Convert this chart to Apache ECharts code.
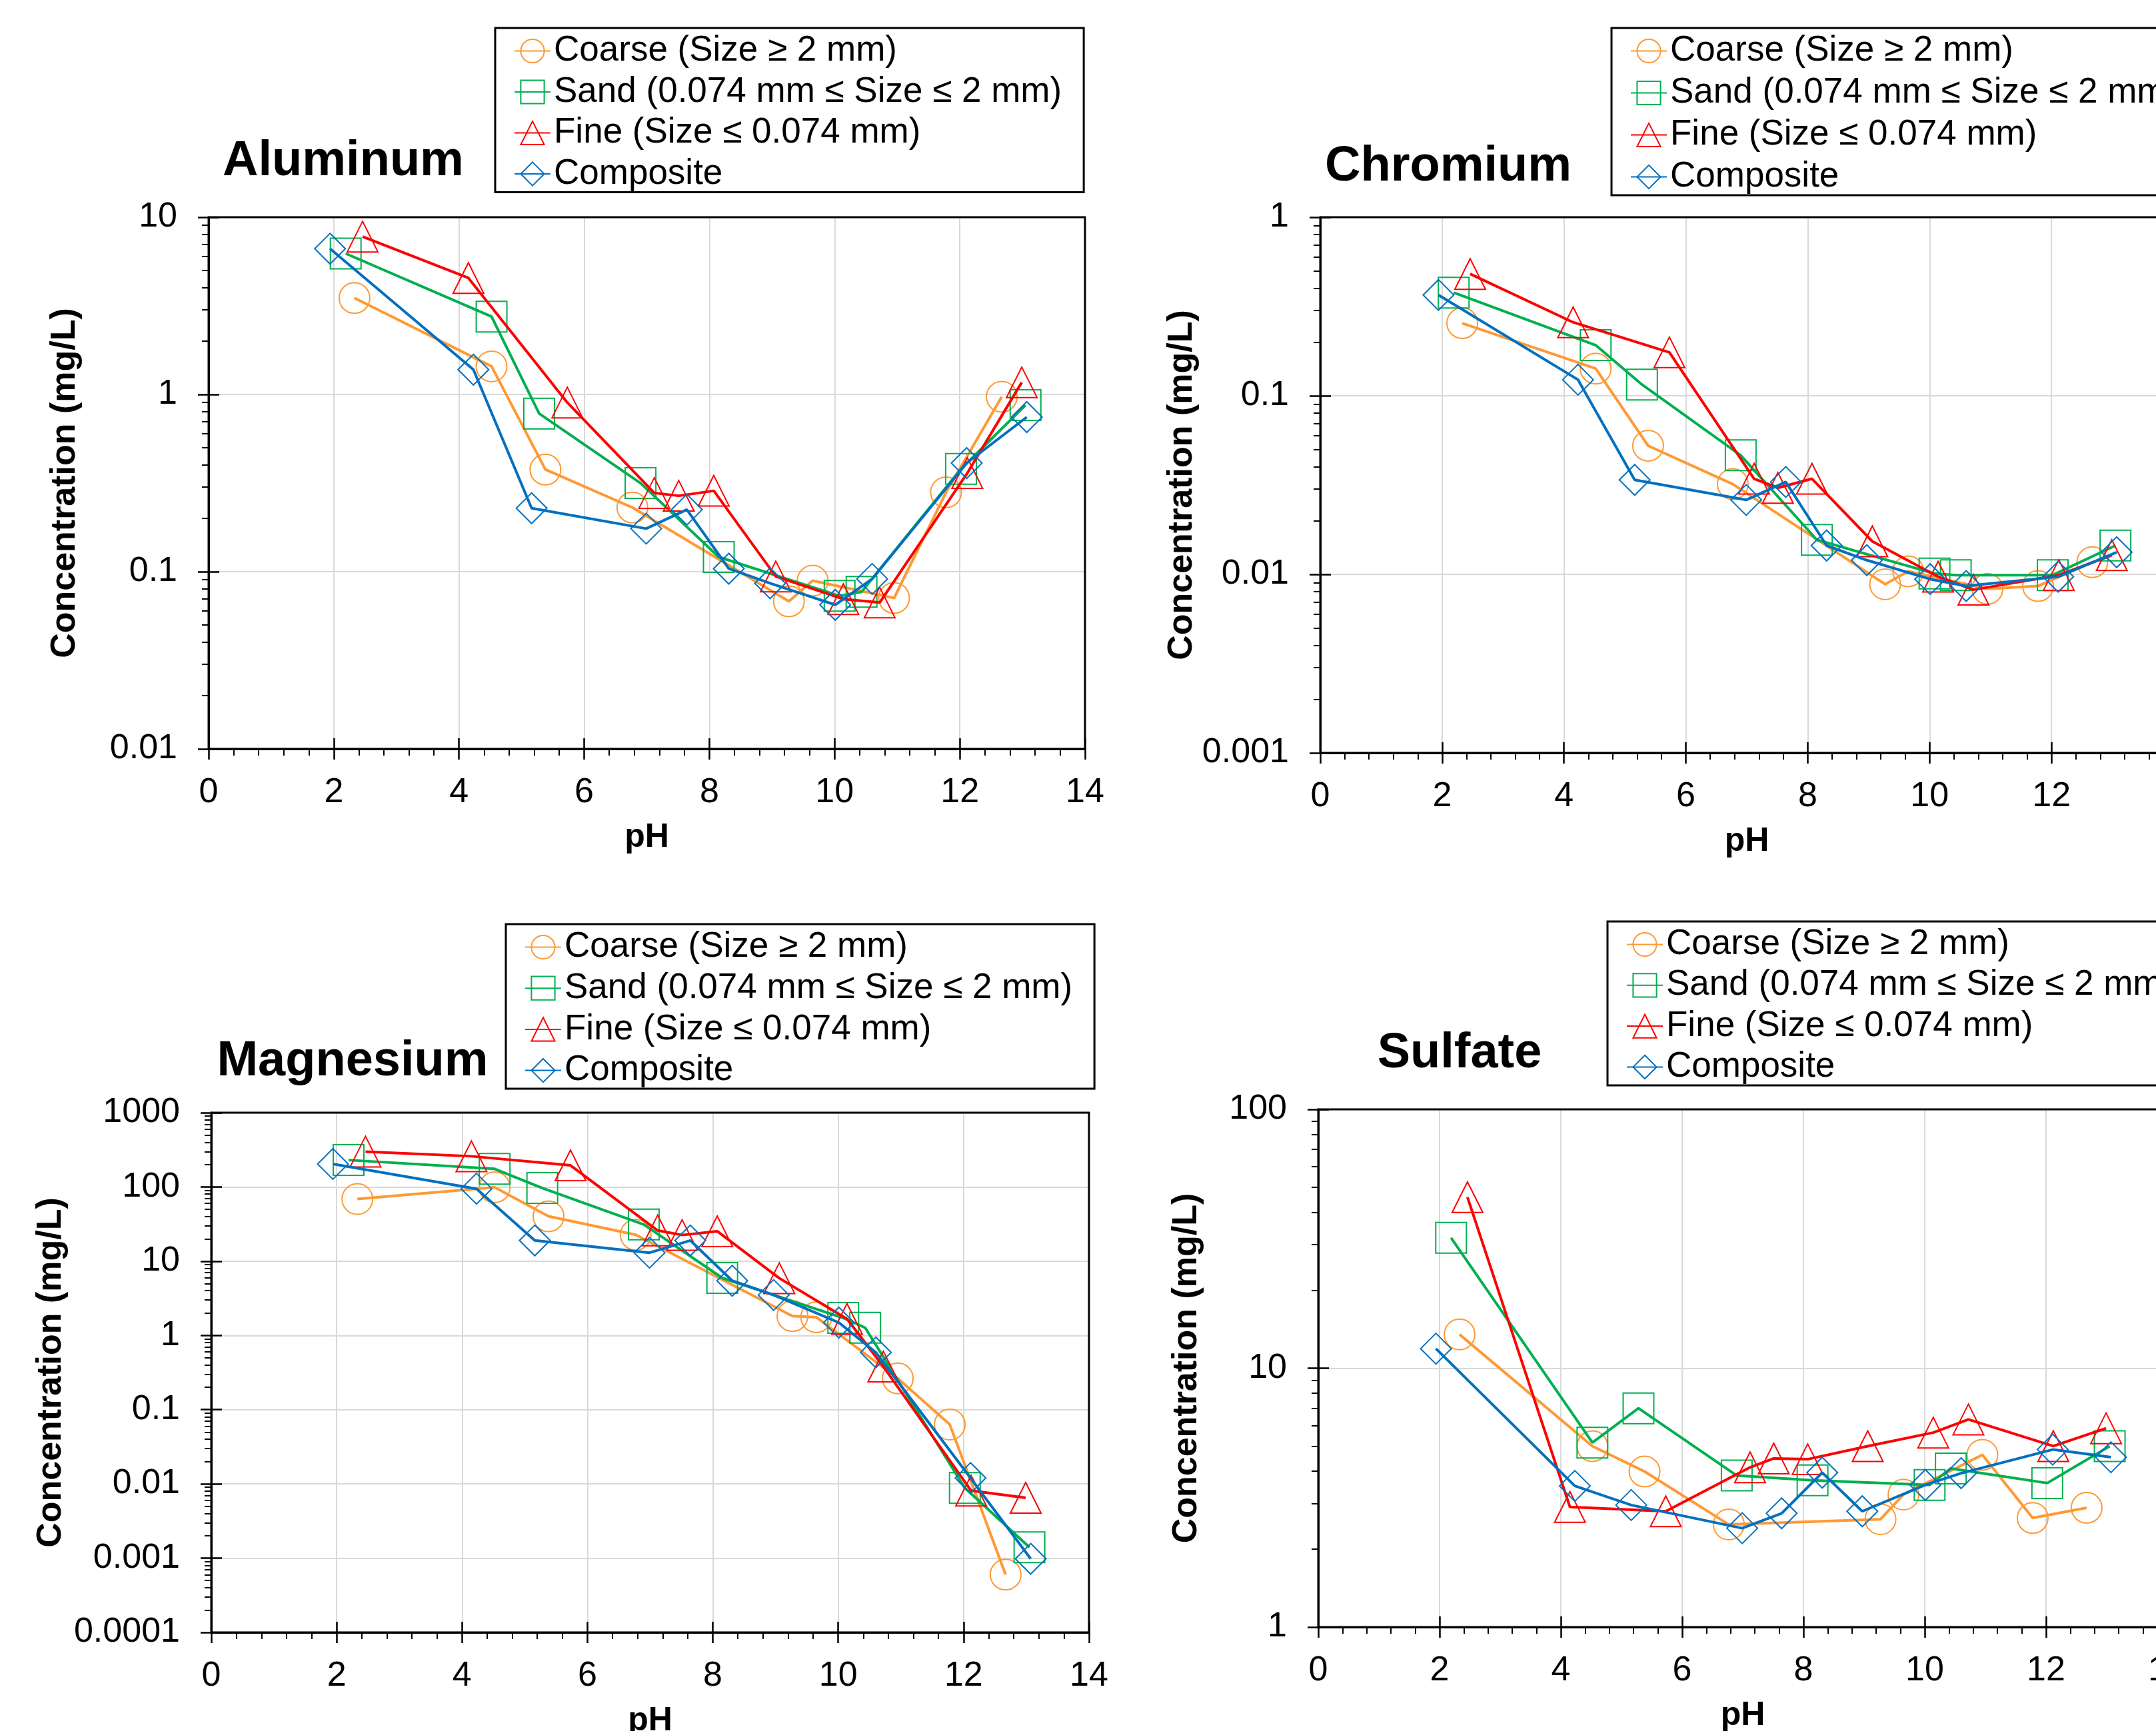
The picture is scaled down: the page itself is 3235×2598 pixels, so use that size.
<!DOCTYPE html>
<html>
<head>
<meta charset="utf-8">
<script src="https://cdn.jsdelivr.net/npm/echarts@6/dist/echarts.min.js"></script>
<style>
html,body{margin:0;padding:0;background:#fff;}
#chart{width:3235px;height:2598px;}
</style>
</head>
<body>
<div id="chart"></div>
<script>
// ---- data ----
const seriesNames = ['Coarse (Size \u2265 2 mm)', 'Sand (0.074 mm \u2264 Size \u2264 2 mm)', 'Fine (Size \u2264 0.074 mm)', 'Composite'];
const xTickLabels = [0, 2, 4, 6, 8, 10, 12, 14];

const phCoarse    = [2.33, 4.52, 5.38, 6.77, 9.27, 9.65, 10.95, 11.78, 12.67];
const phSand      = [2.19, 4.52, 5.28, 6.90, 8.15, 10.08, 10.43, 12.02, 13.05];
const phFine      = [2.46, 4.15, 5.73, 7.12, 7.51, 8.07, 9.06, 10.14, 10.72, 12.12, 12.99];
const phComposite = [1.94, 4.23, 5.16, 6.99, 7.64, 8.31, 8.97, 10.01, 10.60, 12.11, 13.07];

const alCoarse    = [3.5, 1.44, 0.377, 0.23, 0.068, 0.089, 0.071, 0.28, 0.97];
const alSand      = [6.24, 2.75, 0.78, 0.316, 0.121, 0.073, 0.077, 0.38, 0.87];
const alFine      = [7.77, 4.54, 0.90, 0.278, 0.268, 0.286, 0.094, 0.070, 0.067, 0.36, 1.17];
const alComposite = [6.64, 1.38, 0.228, 0.175, 0.224, 0.104, 0.086, 0.065, 0.091, 0.41, 0.745];

const crCoarse    = [0.255, 0.142, 0.0525, 0.032, 0.0088, 0.0104, 0.0083, 0.0086, 0.0117];
const crSand      = [0.378, 0.192, 0.1155, 0.0464, 0.0156, 0.0101, 0.0099, 0.0099, 0.0145];
const crFine      = [0.481, 0.258, 0.175, 0.0343, 0.0305, 0.0343, 0.0153, 0.0097, 0.0082, 0.0099, 0.0128];
const crComposite = [0.367, 0.123, 0.0338, 0.0261, 0.0329, 0.0145, 0.012, 0.0094, 0.0086, 0.0097, 0.0133];

const mgCoarse    = [68.7, 98.8, 40.2, 22.7, 1.82, 1.76, 0.264, 0.063, 0.0006];
const mgSand      = [230, 175, 96.6, 31.2, 5.95, 1.72, 1.27, 0.0088, 0.0014];
const mgFine      = [299, 259, 195, 25.9, 22.5, 25.3, 5.9, 1.67, 0.38, 0.0081, 0.0065];
const mgComposite = [204, 94.5, 19, 13, 19, 5.45, 3.5, 1.49, 0.59, 0.012, 0.00098];

const so4Coarse    = [13.5, 5.0, 3.99, 2.49, 2.61, 3.25, 4.63, 2.64, 2.89];
const so4Sand      = [31.9, 5.16, 7.0, 3.85, 3.69, 3.54, 4.1, 3.6, 5.0];
const so4Fine      = [45.8, 2.91, 2.80, 4.14, 4.48, 4.45, 5.0, 5.64, 6.34, 5.0, 5.86];
const so4Composite = [11.9, 3.51, 2.96, 2.41, 2.75, 3.95, 2.80, 3.54, 3.93, 4.85, 4.53];

// ---- styles / layout ----
const FONT = "'Liberation Sans', Arial, sans-serif";
const colors = ['#FF9933', '#00B050', '#FF0000', '#0070C0'];
const symbols = ['circle', 'rect', 'triangle', 'diamond'];
const phs = [phCoarse, phSand, phFine, phComposite];

const panels = [
  { title: 'Aluminum', tx: 515, ty: 243, grid: {left: 313, top: 326, width: 1315, height: 798},
    yMin: 0.01, yMax: 10, values: [alCoarse, alSand, alFine, alComposite],
    legend: {left: 743, top: 42, gap: 8.5}, yNameGap: 189 },
  { title: 'Chromium', tx: 2173, ty: 251, grid: {left: 1981, top: 326, width: 1280, height: 804},
    yMin: 0.001, yMax: 1, values: [crCoarse, crSand, crFine, crComposite],
    legend: {left: 2418, top: 42, gap: 10}, yNameGap: 176 },
  { title: 'Magnesium', tx: 529, ty: 1594, grid: {left: 317, top: 1670, width: 1317, height: 780},
    yMin: 0.0001, yMax: 1000, values: [mgCoarse, mgSand, mgFine, mgComposite],
    legend: {left: 759, top: 1387, gap: 8.7}, yNameGap: 214 },
  { title: 'Sulfate', tx: 2190, ty: 1582, grid: {left: 1978, top: 1665, width: 1274, height: 777},
    yMin: 1, yMax: 100, values: [so4Coarse, so4Sand, so4Fine, so4Composite],
    legend: {left: 2412, top: 1383, gap: 8.3}, yNameGap: 171 }
];

function fmt(v) { return String(Number(Number(v).toPrecision(4))); }

const option = {
  animation: false,
  backgroundColor: '#fff',
  textStyle: {fontFamily: FONT},
  grid: [], xAxis: [], yAxis: [], series: [], legend: [], graphic: []
};

panels.forEach((p, pi) => {
  option.grid.push(Object.assign({
    show: true, borderColor: '#000', borderWidth: 3, backgroundColor: 'transparent',
    outerBoundsMode: 'none', containLabel: false, z: 1
  }, p.grid));
  const decades = Math.round(Math.log10(p.yMax / p.yMin));
  const e0 = Math.round(Math.log10(p.yMin));
  const minorVals = [];
  for (let e = e0; e < e0 + decades; e++) {
    for (let k = 2; k <= 9; k++) minorVals.push(Number((k * Math.pow(10, e)).toPrecision(3)));
  }
  // main x axis
  option.xAxis.push({
    type: 'value', gridIndex: pi, min: xTickLabels[0], max: xTickLabels[xTickLabels.length - 1], interval: 2,
    position: 'bottom',
    name: 'pH', nameLocation: 'middle', nameGap: 108,
    nameTextStyle: {fontFamily: FONT, fontSize: 50, fontWeight: 'bold', color: '#000', lineHeight: 50},
    axisLine: {show: true, lineStyle: {color: '#000', width: 3}},
    axisTick: {show: true, inside: false, length: 16, lineStyle: {color: '#000', width: 2.5}},
    minorTick: {show: true, splitNumber: 5, length: 10, lineStyle: {color: '#000', width: 2}},
    axisLabel: {fontFamily: FONT, fontSize: 52, color: '#000', margin: 40, formatter: v => String(v)},
    splitLine: {show: true, lineStyle: {color: '#D9D9D9', width: 2}},
    minorSplitLine: {show: false}
  });
  // overlay x axis (inside part of major ticks)
  option.xAxis.push({
    type: 'value', gridIndex: pi, min: xTickLabels[0], max: xTickLabels[xTickLabels.length - 1], interval: 2,
    position: 'bottom',
    axisLine: {show: false},
    axisTick: {show: true, inside: true, length: 16, lineStyle: {color: '#000', width: 2.5}},
    axisLabel: {show: false}, splitLine: {show: false}
  });
  // main y axis
  option.yAxis.push({
    type: 'log', logBase: 10, gridIndex: pi, min: p.yMin, max: p.yMax, splitNumber: decades,
    position: 'left',
    name: 'Concentration (mg/L)', nameLocation: 'middle', nameGap: p.yNameGap, nameRotate: 90,
    nameTextStyle: {fontFamily: FONT, fontSize: 52, fontWeight: 'bold', color: '#000', lineHeight: 52},
    axisLine: {show: true, lineStyle: {color: '#000', width: 3}},
    axisTick: {show: true, inside: false, length: 16, lineStyle: {color: '#000', width: 2.5}},
    axisLabel: {fontFamily: FONT, fontSize: 52, color: '#000', margin: 47, formatter: fmt},
    splitLine: {show: true, lineStyle: {color: '#D9D9D9', width: 2}}
  });
  // overlay y axis: inside major ticks
  option.yAxis.push({
    type: 'log', logBase: 10, gridIndex: pi, min: p.yMin, max: p.yMax, splitNumber: decades,
    position: 'left',
    axisLine: {show: false},
    axisTick: {show: true, inside: true, length: 16, lineStyle: {color: '#000', width: 2.5}},
    axisLabel: {show: false}, splitLine: {show: false}
  });
  // overlay y axis: minor ticks at 2..9 of each decade
  option.yAxis.push({
    type: 'log', logBase: 10, gridIndex: pi, min: p.yMin, max: p.yMax,
    position: 'left',
    axisLine: {show: false},
    axisTick: {show: true, inside: false, length: 10, customValues: minorVals, lineStyle: {color: '#000', width: 2}},
    axisLabel: {show: false}, splitLine: {show: false}
  });

  p.values.forEach((vals, si) => {
    option.series.push({
      type: 'line', name: seriesNames[si], xAxisIndex: 2 * pi, yAxisIndex: 3 * pi,
      data: phs[si].map((x, i) => [x, vals[i]]),
      symbol: symbols[si], symbolSize: 46,
      lineStyle: {color: colors[si], width: 4},
      itemStyle: {color: 'rgba(255,255,255,0)', borderColor: colors[si], borderWidth: 2},
      emphasis: {disabled: true},
      z: 3 + si
    });
  });

  option.legend.push({
    orient: 'vertical', left: p.legend.left, top: p.legend.top,
    data: seriesNames,
    backgroundColor: '#fff', borderColor: '#000', borderWidth: 3,
    padding: [8, 33, 1, 28],
    itemWidth: 54, itemHeight: 44, itemGap: p.legend.gap,
    textStyle: {fontFamily: FONT, fontSize: 53, lineHeight: 53, color: '#000'},
    selectedMode: false
  });

  option.graphic.push({
    type: 'text', x: p.tx, y: p.ty, z: 100,
    style: {text: p.title, font: 'bold 74px ' + FONT, fill: '#000', textAlign: 'center', textVerticalAlign: 'middle'}
  });
});

const chart = echarts.init(document.getElementById('chart'), null, {renderer: 'canvas'});
chart.setOption(option);
</script>
</body>
</html>
